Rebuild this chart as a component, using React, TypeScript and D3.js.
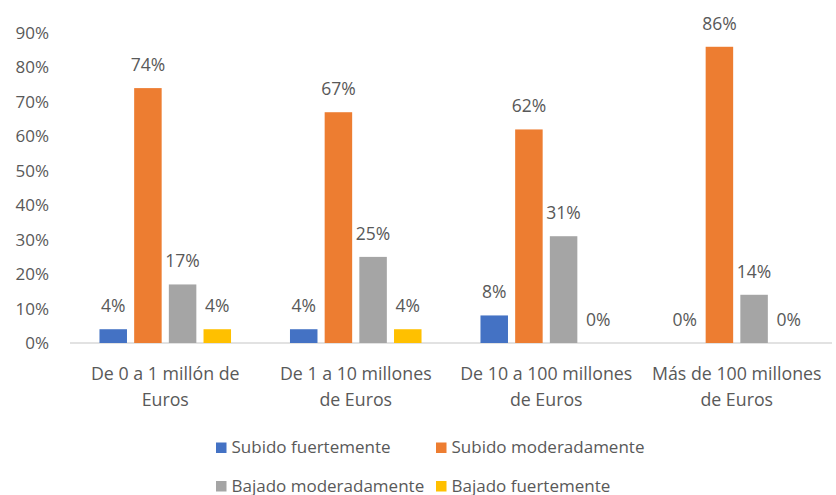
import React from "react";
import * as d3 from "d3";

const categories = [
  ["De 0 a 1 millón de", "Euros"],
  ["De 1 a 10 millones", "de Euros"],
  ["De 10 a 100 millones", "de Euros"],
  ["Más de 100 millones", "de Euros"],
];
const seriesNames = [
  "Subido fuertemente",
  "Subido moderadamente",
  "Bajado moderadamente",
  "Bajado fuertemente",
];
const subidoFuertemente = [4, 4, 8, 0];
const subidoModeradamente = [74, 67, 62, 86];
const bajadoModeradamente = [17, 25, 31, 14];
const bajadoFuertemente = [4, 4, 0, 0];
const yTicks = [0, 10, 20, 30, 40, 50, 60, 70, 80, 90];
const colors = ["#4472C4", "#ED7D31", "#A5A5A5", "#FFC000"];

const W = 836;
const H = 495;
const FONT = "'Open Sans', sans-serif";
const TXT = "#595959";

export default function App() {
  const seriesValues = [subidoFuertemente, subidoModeradamente, bajadoModeradamente, bajadoFuertemente];
  const catIdx = categories.map((_, i) => String(i));
  const x0 = d3.scaleBand<string>().domain(catIdx).range([70, 832]).padding(0);
  const x1 = d3
    .scaleBand<string>()
    .domain(seriesNames)
    .range([0, x0.bandwidth()])
    .paddingInner(0.207)
    .paddingOuter(0.85);
  const y = d3.scaleLinear().domain([0, 90]).range([343, 33]);

  return (
    <svg width={W} height={H} style={{ position: "absolute", left: 0, top: 0, fontFamily: FONT }}>
      <rect width={W} height={H} fill="#fff" />
      {yTicks.map((t) => (
        <text key={t} x={49} y={y(t)} dy="0.35em" textAnchor="end" fontSize={17} fill={TXT}>
          {t}%
        </text>
      ))}
      <line x1={70} x2={832} y1={y(0)} y2={y(0)} stroke="#D9D9D9" strokeWidth={1.5} />
      {catIdx.map((c, ci) => (
        <g key={c} transform={`translate(${x0(c)},0)`}>
          {seriesNames.map((s, si) => {
            const v = seriesValues[si][ci];
            const bx = x1(s)!;
            const bw = x1.bandwidth();
            return (
              <g key={s}>
                {v > 0 && (
                  <rect x={bx} y={y(v)} width={bw} height={y(0) - y(v)} fill={colors[si]} />
                )}
                <text x={bx + bw / 2} y={y(v) - 17} textAnchor="middle" fontSize={17.5} fill={TXT}>
                  {v}%
                </text>
              </g>
            );
          })}
          {categories[ci].map((line, li) => (
            <text
              key={li}
              x={x0.bandwidth() / 2}
              y={379.5 + li * 26.5}
              textAnchor="middle"
              fontSize={17.8}
              fill={TXT}
            >
              {line}
            </text>
          ))}
        </g>
      ))}
      {seriesNames.map((s, i) => {
        const col = i % 2;
        const row = Math.floor(i / 2);
        const lx = col === 0 ? 216 : 436;
        const ly = row === 0 ? 453 : 491.5;
        return (
          <g key={s}>
            <rect x={lx} y={ly - 10.5} width={10.5} height={10.5} fill={colors[i]} />
            <text x={lx + 15.5} y={ly} fontSize={17} fill={TXT}>
              {s}
            </text>
          </g>
        );
      })}
    </svg>
  );
}
